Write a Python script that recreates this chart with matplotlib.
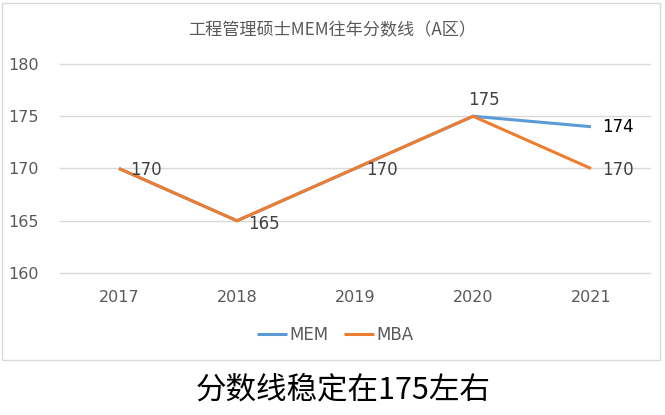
import matplotlib
matplotlib.use("Agg")
import matplotlib.pyplot as plt
from matplotlib.patches import Rectangle

plt.rcParams['font.family'] = ['Noto Sans CJK SC', 'DejaVu Sans']

years = ['2017', '2018', '2019', '2020', '2021']
mem = [170, 165, 170, 175, 174]
mba = [170, 165, 170, 175, 170]
yticks = [160, 165, 170, 175, 180]
title = '工程管理硕士MEM往年分数线（A区）'
caption = '分数线稳定在175左右'

W, H = 665, 415
fig = plt.figure(figsize=(W / 100, H / 100), dpi=100)

# outer chart box
fig.patches.append(Rectangle((2 / W, 1 - 360 / H), 658 / W, 357 / H,
                             transform=fig.transFigure, fill=False,
                             edgecolor='#d9d9d9', linewidth=1))

ax = fig.add_axes([60 / W, 1 - 273 / H, 590 / W, 209 / H])
x = list(range(len(years)))
ax.plot(x, mem, color='#5b9bd5', linewidth=2.2, label='MEM', solid_capstyle='butt')
ax.plot(x, mba, color='#ed7d31', linewidth=2.2, label='MBA', solid_capstyle='butt')

ax.set_xlim(-0.5, len(years) - 0.5)
ax.set_ylim(yticks[0], yticks[-1])
ax.set_yticks(yticks)
ax.set_xticks(x)
ax.set_xticklabels(years)
for yv in yticks:
    ax.axhline(yv, color='#d9d9d9', linewidth=1, zorder=0, clip_on=False)
for s in ax.spines.values():
    s.set_visible(False)
ax.tick_params(length=0, colors='#595959', labelsize=11.5)
ax.tick_params(axis='y', pad=15)
ax.tick_params(axis='x', pad=12)
for lbl in ax.get_xticklabels() + ax.get_yticklabels():
    lbl.set_family(['DejaVu Sans'])

lab_kw = dict(fontsize=12, color='#404040', family=['DejaVu Sans'])
# MBA labels (right of points) for 2017-2019 and 2021
for i in [0, 1, 2, 4]:
    ax.annotate(str(mba[i]), (x[i], mba[i]), xytext=(8, -1 if i != 1 else -2),
                textcoords='offset points', ha='left', va='center', **lab_kw)
# MEM labels
ax.annotate(str(mem[3]), (x[3], mem[3]), xytext=(8, 12),
            textcoords='offset points', ha='center', va='center', **lab_kw)
ax.annotate(str(mem[4]), (x[4], mem[4]), xytext=(8, 0),
            textcoords='offset points', ha='left', va='center', fontsize=12,
            color='#000000', family=['DejaVu Sans'])

fig.text(0.5, 1 - 30 / H, title, ha='center', va='center', fontsize=12.3, color='#595959')

leg = fig.legend(loc='center', bbox_to_anchor=(335 / W, 1 - 335 / H), ncol=2,
                 frameon=False, fontsize=12, handlelength=1.8, handletextpad=0.15,
                 columnspacing=0.9)
for t in leg.get_texts():
    t.set_color('#595959')
    t.set_family(['DejaVu Sans'])

fig.text(343 / W, 1 - 390 / H, caption, ha='center', va='center', fontsize=22, color='#000000')

fig.savefig('out.png', dpi=100)
